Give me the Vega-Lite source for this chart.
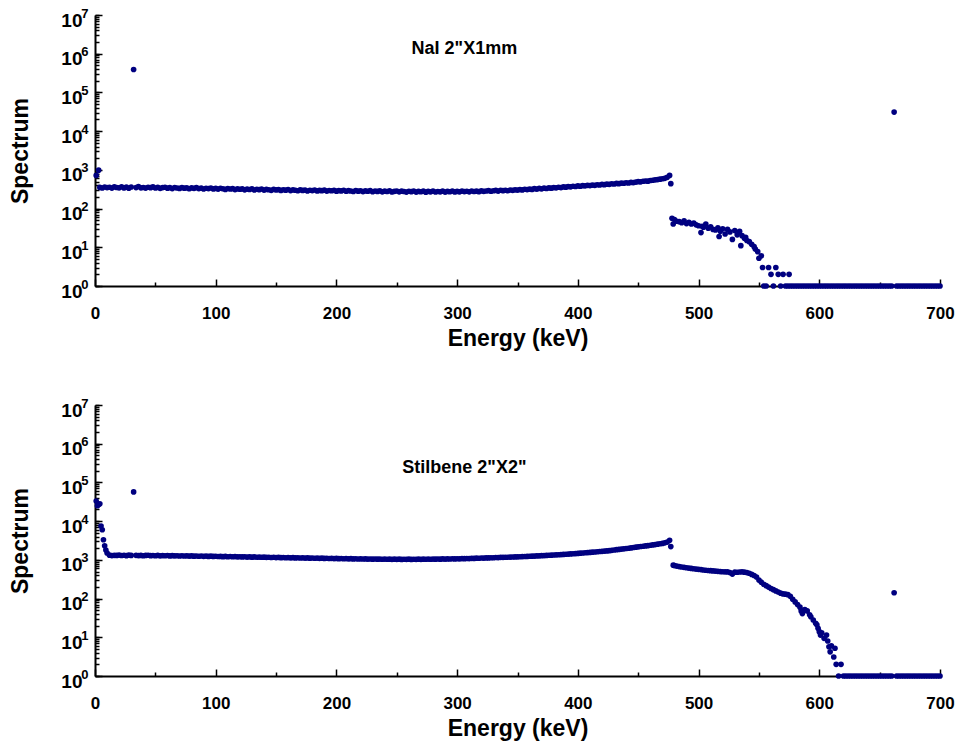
{
  "$schema": "https://vega.github.io/schema/vega-lite/v6.json",
  "background": "white",
  "padding": {"left": 9, "top": 7, "right": 10, "bottom": 5},
  "spacing": 119,
  "bounds": "flush",
  "config": {
    "view": {"stroke": null},
    "font": "Liberation Sans",
    "axis": {
      "grid": false,
      "labelFont": "Liberation Sans",
      "labelFontWeight": "bold",
      "labelFontSize": 17,
      "labelColor": "black",
      "labelOverlap": false,
      "labelFlush": false,
      "titleFont": "Liberation Sans",
      "titleFontWeight": "bold",
      "titleFontSize": 23,
      "titleColor": "black",
      "domainColor": "black",
      "domainWidth": 2,
      "tickColor": "black",
      "tickWidth": 1.5
    }
  },
  "datasets": {
    "nai": [
      {"energy": 1, "counts": 720}, {"energy": 3, "counts": 980},
      {"energy": 4, "counts": 352}, {"energy": 6, "counts": 340}, {"energy": 8, "counts": 361}, {"energy": 10, "counts": 348},
      {"energy": 12, "counts": 355}, {"energy": 14, "counts": 338}, {"energy": 16, "counts": 362}, {"energy": 18, "counts": 350},
      {"energy": 20, "counts": 344}, {"energy": 22, "counts": 366}, {"energy": 24, "counts": 341}, {"energy": 26, "counts": 357},
      {"energy": 28, "counts": 335}, {"energy": 30, "counts": 360}, {"energy": 32, "counts": 390000}, {"energy": 34, "counts": 349},
      {"energy": 36, "counts": 372}, {"energy": 38, "counts": 343}, {"energy": 40, "counts": 351}, {"energy": 42, "counts": 338},
      {"energy": 44, "counts": 356}, {"energy": 46, "counts": 347}, {"energy": 48, "counts": 362}, {"energy": 50, "counts": 340},
      {"energy": 52, "counts": 352}, {"energy": 54, "counts": 333}, {"energy": 56, "counts": 348}, {"energy": 58, "counts": 355},
      {"energy": 60, "counts": 337}, {"energy": 62, "counts": 346}, {"energy": 64, "counts": 328}, {"energy": 66, "counts": 351},
      {"energy": 68, "counts": 340}, {"energy": 70, "counts": 332}, {"energy": 72, "counts": 349}, {"energy": 74, "counts": 336},
      {"energy": 76, "counts": 344}, {"energy": 78, "counts": 325}, {"energy": 80, "counts": 341}, {"energy": 82, "counts": 333},
      {"energy": 84, "counts": 347}, {"energy": 86, "counts": 329}, {"energy": 88, "counts": 338}, {"energy": 90, "counts": 321},
      {"energy": 92, "counts": 335}, {"energy": 94, "counts": 328}, {"energy": 96, "counts": 340}, {"energy": 98, "counts": 322},
      {"energy": 100, "counts": 331}, {"energy": 102, "counts": 318}, {"energy": 104, "counts": 334}, {"energy": 106, "counts": 325},
      {"energy": 108, "counts": 312}, {"energy": 110, "counts": 330}, {"energy": 112, "counts": 320}, {"energy": 114, "counts": 327},
      {"energy": 116, "counts": 310}, {"energy": 118, "counts": 324}, {"energy": 120, "counts": 316}, {"energy": 122, "counts": 322},
      {"energy": 124, "counts": 305}, {"energy": 126, "counts": 318}, {"energy": 128, "counts": 311}, {"energy": 130, "counts": 325},
      {"energy": 132, "counts": 302}, {"energy": 134, "counts": 316}, {"energy": 136, "counts": 308}, {"energy": 138, "counts": 320},
      {"energy": 140, "counts": 300}, {"energy": 142, "counts": 312}, {"energy": 144, "counts": 306}, {"energy": 146, "counts": 296},
      {"energy": 148, "counts": 314}, {"energy": 150, "counts": 303}, {"energy": 152, "counts": 309}, {"energy": 154, "counts": 294},
      {"energy": 156, "counts": 306}, {"energy": 158, "counts": 299}, {"energy": 160, "counts": 311}, {"energy": 162, "counts": 292},
      {"energy": 164, "counts": 303}, {"energy": 166, "counts": 297}, {"energy": 168, "counts": 288}, {"energy": 170, "counts": 305},
      {"energy": 172, "counts": 295}, {"energy": 174, "counts": 300}, {"energy": 176, "counts": 285}, {"energy": 178, "counts": 298},
      {"energy": 180, "counts": 291}, {"energy": 182, "counts": 302}, {"energy": 184, "counts": 286}, {"energy": 186, "counts": 295},
      {"energy": 188, "counts": 290}, {"energy": 190, "counts": 299}, {"energy": 192, "counts": 283}, {"energy": 194, "counts": 293},
      {"energy": 196, "counts": 288}, {"energy": 198, "counts": 296}, {"energy": 200, "counts": 281}, {"energy": 202, "counts": 292},
      {"energy": 204, "counts": 286}, {"energy": 206, "counts": 297}, {"energy": 208, "counts": 280}, {"energy": 210, "counts": 290},
      {"energy": 212, "counts": 284}, {"energy": 214, "counts": 276}, {"energy": 216, "counts": 293}, {"energy": 218, "counts": 282},
      {"energy": 220, "counts": 288}, {"energy": 222, "counts": 274}, {"energy": 224, "counts": 286}, {"energy": 226, "counts": 280},
      {"energy": 228, "counts": 291}, {"energy": 230, "counts": 272}, {"energy": 232, "counts": 284}, {"energy": 234, "counts": 278},
      {"energy": 236, "counts": 287}, {"energy": 238, "counts": 270}, {"energy": 240, "counts": 281}, {"energy": 242, "counts": 276},
      {"energy": 244, "counts": 289}, {"energy": 246, "counts": 268}, {"energy": 248, "counts": 279}, {"energy": 250, "counts": 285},
      {"energy": 252, "counts": 271}, {"energy": 254, "counts": 282}, {"energy": 256, "counts": 276}, {"energy": 258, "counts": 266},
      {"energy": 260, "counts": 280}, {"energy": 262, "counts": 273}, {"energy": 264, "counts": 284}, {"energy": 266, "counts": 267},
      {"energy": 268, "counts": 278}, {"energy": 270, "counts": 272}, {"energy": 272, "counts": 281}, {"energy": 274, "counts": 265},
      {"energy": 276, "counts": 277}, {"energy": 278, "counts": 271}, {"energy": 280, "counts": 283}, {"energy": 282, "counts": 268},
      {"energy": 284, "counts": 276}, {"energy": 286, "counts": 270}, {"energy": 288, "counts": 282}, {"energy": 290, "counts": 266},
      {"energy": 292, "counts": 278}, {"energy": 294, "counts": 272}, {"energy": 296, "counts": 284}, {"energy": 298, "counts": 269},
      {"energy": 300, "counts": 277}, {"energy": 302, "counts": 271}, {"energy": 304, "counts": 283}, {"energy": 306, "counts": 274},
      {"energy": 308, "counts": 280}, {"energy": 310, "counts": 270}, {"energy": 312, "counts": 285}, {"energy": 314, "counts": 276},
      {"energy": 316, "counts": 281}, {"energy": 318, "counts": 273}, {"energy": 320, "counts": 287}, {"energy": 322, "counts": 279},
      {"energy": 324, "counts": 284}, {"energy": 326, "counts": 291}, {"energy": 328, "counts": 280}, {"energy": 330, "counts": 288},
      {"energy": 332, "counts": 294}, {"energy": 334, "counts": 283}, {"energy": 336, "counts": 297}, {"energy": 338, "counts": 290},
      {"energy": 340, "counts": 298}, {"energy": 342, "counts": 288}, {"energy": 344, "counts": 302}, {"energy": 346, "counts": 296},
      {"energy": 348, "counts": 305}, {"energy": 350, "counts": 300}, {"energy": 352, "counts": 310}, {"energy": 354, "counts": 303},
      {"energy": 356, "counts": 315}, {"energy": 358, "counts": 309}, {"energy": 360, "counts": 318}, {"energy": 362, "counts": 312},
      {"energy": 364, "counts": 326}, {"energy": 366, "counts": 318}, {"energy": 368, "counts": 331}, {"energy": 370, "counts": 324},
      {"energy": 372, "counts": 337}, {"energy": 374, "counts": 330}, {"energy": 376, "counts": 342}, {"energy": 378, "counts": 336},
      {"energy": 380, "counts": 348}, {"energy": 382, "counts": 343}, {"energy": 384, "counts": 356}, {"energy": 386, "counts": 349},
      {"energy": 388, "counts": 362}, {"energy": 390, "counts": 357}, {"energy": 392, "counts": 370}, {"energy": 394, "counts": 364},
      {"energy": 396, "counts": 377}, {"energy": 398, "counts": 372}, {"energy": 400, "counts": 384}, {"energy": 402, "counts": 378},
      {"energy": 404, "counts": 391}, {"energy": 406, "counts": 386}, {"energy": 408, "counts": 398}, {"energy": 410, "counts": 393},
      {"energy": 412, "counts": 405}, {"energy": 414, "counts": 399}, {"energy": 416, "counts": 412}, {"energy": 418, "counts": 406},
      {"energy": 420, "counts": 420}, {"energy": 422, "counts": 414}, {"energy": 424, "counts": 428}, {"energy": 426, "counts": 423},
      {"energy": 428, "counts": 437}, {"energy": 430, "counts": 432}, {"energy": 432, "counts": 446}, {"energy": 434, "counts": 440},
      {"energy": 436, "counts": 455}, {"energy": 438, "counts": 450}, {"energy": 440, "counts": 464}, {"energy": 442, "counts": 458},
      {"energy": 444, "counts": 474}, {"energy": 446, "counts": 468}, {"energy": 448, "counts": 484}, {"energy": 450, "counts": 495},
      {"energy": 452, "counts": 490}, {"energy": 454, "counts": 507}, {"energy": 456, "counts": 516}, {"energy": 458, "counts": 510},
      {"energy": 460, "counts": 530}, {"energy": 462, "counts": 538}, {"energy": 464, "counts": 552}, {"energy": 466, "counts": 560},
      {"energy": 468, "counts": 575}, {"energy": 470, "counts": 590}, {"energy": 472, "counts": 605}, {"energy": 474, "counts": 640},
      {"energy": 476, "counts": 720}, {"energy": 477, "counts": 440},
      {"energy": 478, "counts": 56}, {"energy": 479, "counts": 40}, {"energy": 480, "counts": 52}, {"energy": 482, "counts": 47},
      {"energy": 484, "counts": 46}, {"energy": 486, "counts": 43}, {"energy": 488, "counts": 48}, {"energy": 490, "counts": 41},
      {"energy": 492, "counts": 44}, {"energy": 494, "counts": 40}, {"energy": 496, "counts": 42}, {"energy": 498, "counts": 38},
      {"energy": 500, "counts": 36}, {"energy": 502, "counts": 24}, {"energy": 503, "counts": 35}, {"energy": 504, "counts": 33},
      {"energy": 506, "counts": 40}, {"energy": 508, "counts": 31}, {"energy": 510, "counts": 34}, {"energy": 512, "counts": 29},
      {"energy": 514, "counts": 28}, {"energy": 516, "counts": 32}, {"energy": 517, "counts": 19}, {"energy": 518, "counts": 26},
      {"energy": 520, "counts": 30}, {"energy": 522, "counts": 22}, {"energy": 524, "counts": 29}, {"energy": 526, "counts": 25},
      {"energy": 528, "counts": 16}, {"energy": 530, "counts": 27}, {"energy": 532, "counts": 21}, {"energy": 534, "counts": 26},
      {"energy": 535, "counts": 11}, {"energy": 536, "counts": 20}, {"energy": 538, "counts": 17}, {"energy": 539, "counts": 18},
      {"energy": 540, "counts": 15}, {"energy": 542, "counts": 14}, {"energy": 544, "counts": 12}, {"energy": 546, "counts": 10.4},
      {"energy": 547, "counts": 9}, {"energy": 549, "counts": 7.7}, {"energy": 550, "counts": 5.2}, {"energy": 552, "counts": 6},
      {"energy": 553, "counts": 3}, {"energy": 558, "counts": 3}, {"energy": 564, "counts": 3},
      {"energy": 560, "counts": 2}, {"energy": 566, "counts": 2}, {"energy": 570, "counts": 2}, {"energy": 575, "counts": 2},
      {"energy": 554, "counts": 1}, {"energy": 556, "counts": 1}, {"energy": 562, "counts": 1}, {"energy": 568, "counts": 1},
      {"energy": 572, "counts": 1}, {"energy": 574, "counts": 1}, {"energy": 576, "counts": 1}, {"energy": 578, "counts": 1},
      {"energy": 580, "counts": 1}, {"energy": 582, "counts": 1}, {"energy": 584, "counts": 1}, {"energy": 586, "counts": 1},
      {"energy": 588, "counts": 1}, {"energy": 590, "counts": 1}, {"energy": 592, "counts": 1}, {"energy": 594, "counts": 1},
      {"energy": 596, "counts": 1}, {"energy": 598, "counts": 1}, {"energy": 600, "counts": 1}, {"energy": 602, "counts": 1},
      {"energy": 604, "counts": 1}, {"energy": 606, "counts": 1}, {"energy": 608, "counts": 1}, {"energy": 610, "counts": 1},
      {"energy": 612, "counts": 1}, {"energy": 614, "counts": 1}, {"energy": 616, "counts": 1}, {"energy": 618, "counts": 1},
      {"energy": 620, "counts": 1}, {"energy": 622, "counts": 1}, {"energy": 624, "counts": 1}, {"energy": 626, "counts": 1},
      {"energy": 628, "counts": 1}, {"energy": 630, "counts": 1}, {"energy": 632, "counts": 1}, {"energy": 634, "counts": 1},
      {"energy": 636, "counts": 1}, {"energy": 638, "counts": 1}, {"energy": 640, "counts": 1}, {"energy": 642, "counts": 1},
      {"energy": 644, "counts": 1}, {"energy": 646, "counts": 1}, {"energy": 648, "counts": 1}, {"energy": 650, "counts": 1},
      {"energy": 652, "counts": 1}, {"energy": 654, "counts": 1}, {"energy": 656, "counts": 1}, {"energy": 658, "counts": 1},
      {"energy": 660, "counts": 1}, {"energy": 662, "counts": 31000}, {"energy": 664, "counts": 1}, {"energy": 666, "counts": 1},
      {"energy": 668, "counts": 1}, {"energy": 670, "counts": 1}, {"energy": 672, "counts": 1}, {"energy": 674, "counts": 1},
      {"energy": 676, "counts": 1}, {"energy": 678, "counts": 1}, {"energy": 680, "counts": 1}, {"energy": 682, "counts": 1},
      {"energy": 684, "counts": 1}, {"energy": 686, "counts": 1}, {"energy": 688, "counts": 1}, {"energy": 690, "counts": 1},
      {"energy": 692, "counts": 1}, {"energy": 694, "counts": 1}, {"energy": 696, "counts": 1}, {"energy": 698, "counts": 1},
      {"energy": 700, "counts": 1}
    ],
    "stilbene": [
      {"energy": 1, "counts": 33000}, {"energy": 2, "counts": 25000}, {"energy": 3, "counts": 27000}, {"energy": 4, "counts": 28000},
      {"energy": 5, "counts": 7500}, {"energy": 6, "counts": 6000}, {"energy": 7, "counts": 3300}, {"energy": 8, "counts": 2300},
      {"energy": 9, "counts": 1800}, {"energy": 10, "counts": 1500},
      {"energy": 12, "counts": 1320}, {"energy": 14, "counts": 1290}, {"energy": 16, "counts": 1310}, {"energy": 18, "counts": 1300},
      {"energy": 20, "counts": 1330}, {"energy": 22, "counts": 1295}, {"energy": 24, "counts": 1315}, {"energy": 26, "counts": 1285},
      {"energy": 28, "counts": 1320}, {"energy": 30, "counts": 1300}, {"energy": 32, "counts": 57000}, {"energy": 34, "counts": 1310},
      {"energy": 36, "counts": 1290}, {"energy": 38, "counts": 1305}, {"energy": 40, "counts": 1280}, {"energy": 42, "counts": 1300},
      {"energy": 44, "counts": 1315}, {"energy": 46, "counts": 1285}, {"energy": 48, "counts": 1295}, {"energy": 50, "counts": 1280},
      {"energy": 52, "counts": 1300}, {"energy": 54, "counts": 1270}, {"energy": 56, "counts": 1290}, {"energy": 58, "counts": 1275},
      {"energy": 60, "counts": 1295}, {"energy": 62, "counts": 1265}, {"energy": 64, "counts": 1285}, {"energy": 66, "counts": 1270},
      {"energy": 68, "counts": 1280}, {"energy": 70, "counts": 1260}, {"energy": 72, "counts": 1275}, {"energy": 74, "counts": 1255},
      {"energy": 76, "counts": 1270}, {"energy": 78, "counts": 1250}, {"energy": 80, "counts": 1265}, {"energy": 82, "counts": 1245},
      {"energy": 84, "counts": 1260}, {"energy": 86, "counts": 1240}, {"energy": 88, "counts": 1255}, {"energy": 90, "counts": 1235},
      {"energy": 92, "counts": 1250}, {"energy": 94, "counts": 1230}, {"energy": 96, "counts": 1245}, {"energy": 98, "counts": 1225},
      {"energy": 100, "counts": 1240}, {"energy": 102, "counts": 1220}, {"energy": 104, "counts": 1230}, {"energy": 106, "counts": 1210},
      {"energy": 108, "counts": 1225}, {"energy": 110, "counts": 1205}, {"energy": 112, "counts": 1220}, {"energy": 114, "counts": 1200},
      {"energy": 116, "counts": 1215}, {"energy": 118, "counts": 1195}, {"energy": 120, "counts": 1205}, {"energy": 122, "counts": 1190},
      {"energy": 124, "counts": 1200}, {"energy": 126, "counts": 1180}, {"energy": 128, "counts": 1195}, {"energy": 130, "counts": 1175},
      {"energy": 132, "counts": 1190}, {"energy": 134, "counts": 1170}, {"energy": 136, "counts": 1180}, {"energy": 138, "counts": 1165},
      {"energy": 140, "counts": 1175}, {"energy": 142, "counts": 1160}, {"energy": 144, "counts": 1170}, {"energy": 146, "counts": 1150},
      {"energy": 148, "counts": 1165}, {"energy": 150, "counts": 1145}, {"energy": 152, "counts": 1160}, {"energy": 154, "counts": 1140},
      {"energy": 156, "counts": 1150}, {"energy": 158, "counts": 1135}, {"energy": 160, "counts": 1145}, {"energy": 162, "counts": 1130},
      {"energy": 164, "counts": 1140}, {"energy": 166, "counts": 1120}, {"energy": 168, "counts": 1135}, {"energy": 170, "counts": 1115},
      {"energy": 172, "counts": 1130}, {"energy": 174, "counts": 1110}, {"energy": 176, "counts": 1120}, {"energy": 178, "counts": 1105},
      {"energy": 180, "counts": 1115}, {"energy": 182, "counts": 1100}, {"energy": 184, "counts": 1110}, {"energy": 186, "counts": 1095},
      {"energy": 188, "counts": 1105}, {"energy": 190, "counts": 1090}, {"energy": 192, "counts": 1100}, {"energy": 194, "counts": 1085},
      {"energy": 196, "counts": 1095}, {"energy": 198, "counts": 1080}, {"energy": 200, "counts": 1090}, {"energy": 202, "counts": 1075},
      {"energy": 204, "counts": 1085}, {"energy": 206, "counts": 1070}, {"energy": 208, "counts": 1080}, {"energy": 210, "counts": 1065},
      {"energy": 212, "counts": 1075}, {"energy": 214, "counts": 1060}, {"energy": 216, "counts": 1070}, {"energy": 218, "counts": 1055},
      {"energy": 220, "counts": 1065}, {"energy": 222, "counts": 1050}, {"energy": 224, "counts": 1060}, {"energy": 226, "counts": 1045},
      {"energy": 228, "counts": 1055}, {"energy": 230, "counts": 1042}, {"energy": 232, "counts": 1052}, {"energy": 234, "counts": 1040},
      {"energy": 236, "counts": 1048}, {"energy": 238, "counts": 1036}, {"energy": 240, "counts": 1046}, {"energy": 242, "counts": 1034},
      {"energy": 244, "counts": 1044}, {"energy": 246, "counts": 1032}, {"energy": 248, "counts": 1042}, {"energy": 250, "counts": 1030},
      {"energy": 252, "counts": 1040}, {"energy": 254, "counts": 1028}, {"energy": 256, "counts": 1038}, {"energy": 258, "counts": 1030},
      {"energy": 260, "counts": 1040}, {"energy": 262, "counts": 1028}, {"energy": 264, "counts": 1038}, {"energy": 266, "counts": 1030},
      {"energy": 268, "counts": 1042}, {"energy": 270, "counts": 1032}, {"energy": 272, "counts": 1044}, {"energy": 274, "counts": 1034},
      {"energy": 276, "counts": 1046}, {"energy": 278, "counts": 1036}, {"energy": 280, "counts": 1048}, {"energy": 282, "counts": 1040},
      {"energy": 284, "counts": 1052}, {"energy": 286, "counts": 1044}, {"energy": 288, "counts": 1056}, {"energy": 290, "counts": 1048},
      {"energy": 292, "counts": 1060}, {"energy": 294, "counts": 1052}, {"energy": 296, "counts": 1066}, {"energy": 298, "counts": 1058},
      {"energy": 300, "counts": 1070}, {"energy": 302, "counts": 1064}, {"energy": 304, "counts": 1078}, {"energy": 306, "counts": 1072},
      {"energy": 308, "counts": 1086}, {"energy": 310, "counts": 1080}, {"energy": 312, "counts": 1094}, {"energy": 314, "counts": 1090},
      {"energy": 316, "counts": 1104}, {"energy": 318, "counts": 1100}, {"energy": 320, "counts": 1114}, {"energy": 322, "counts": 1110},
      {"energy": 324, "counts": 1124}, {"energy": 326, "counts": 1122}, {"energy": 328, "counts": 1136}, {"energy": 330, "counts": 1134},
      {"energy": 332, "counts": 1148}, {"energy": 334, "counts": 1146}, {"energy": 336, "counts": 1160}, {"energy": 338, "counts": 1160},
      {"energy": 340, "counts": 1165}, {"energy": 342, "counts": 1170}, {"energy": 344, "counts": 1180}, {"energy": 346, "counts": 1186},
      {"energy": 348, "counts": 1190}, {"energy": 350, "counts": 1196}, {"energy": 352, "counts": 1205}, {"energy": 354, "counts": 1212},
      {"energy": 356, "counts": 1220}, {"energy": 358, "counts": 1228}, {"energy": 360, "counts": 1236}, {"energy": 362, "counts": 1245},
      {"energy": 364, "counts": 1254}, {"energy": 366, "counts": 1262}, {"energy": 368, "counts": 1272}, {"energy": 370, "counts": 1282},
      {"energy": 372, "counts": 1292}, {"energy": 374, "counts": 1300}, {"energy": 376, "counts": 1312}, {"energy": 378, "counts": 1322},
      {"energy": 380, "counts": 1332}, {"energy": 382, "counts": 1345}, {"energy": 384, "counts": 1356}, {"energy": 386, "counts": 1370},
      {"energy": 388, "counts": 1382}, {"energy": 390, "counts": 1396}, {"energy": 392, "counts": 1410}, {"energy": 394, "counts": 1424},
      {"energy": 396, "counts": 1440}, {"energy": 398, "counts": 1455}, {"energy": 400, "counts": 1470}, {"energy": 402, "counts": 1488},
      {"energy": 404, "counts": 1505}, {"energy": 406, "counts": 1522}, {"energy": 408, "counts": 1540}, {"energy": 410, "counts": 1560},
      {"energy": 412, "counts": 1578}, {"energy": 414, "counts": 1598}, {"energy": 416, "counts": 1618}, {"energy": 418, "counts": 1640},
      {"energy": 420, "counts": 1660}, {"energy": 422, "counts": 1684}, {"energy": 424, "counts": 1706}, {"energy": 426, "counts": 1730},
      {"energy": 428, "counts": 1765}, {"energy": 430, "counts": 1800}, {"energy": 432, "counts": 1830}, {"energy": 434, "counts": 1860},
      {"energy": 436, "counts": 1895}, {"energy": 438, "counts": 1925}, {"energy": 440, "counts": 1960}, {"energy": 442, "counts": 1995},
      {"energy": 444, "counts": 2035}, {"energy": 446, "counts": 2080}, {"energy": 448, "counts": 2125}, {"energy": 450, "counts": 2170},
      {"energy": 452, "counts": 2210}, {"energy": 454, "counts": 2250}, {"energy": 456, "counts": 2290}, {"energy": 458, "counts": 2330},
      {"energy": 460, "counts": 2380}, {"energy": 462, "counts": 2430}, {"energy": 464, "counts": 2480}, {"energy": 466, "counts": 2540},
      {"energy": 468, "counts": 2600}, {"energy": 470, "counts": 2660}, {"energy": 472, "counts": 2750}, {"energy": 474, "counts": 2880},
      {"energy": 476, "counts": 3200}, {"energy": 477, "counts": 2200},
      {"energy": 479, "counts": 730}, {"energy": 480, "counts": 710}, {"energy": 482, "counts": 690}, {"energy": 484, "counts": 670},
      {"energy": 486, "counts": 655}, {"energy": 488, "counts": 640}, {"energy": 490, "counts": 625}, {"energy": 492, "counts": 612},
      {"energy": 494, "counts": 600}, {"energy": 496, "counts": 590}, {"energy": 498, "counts": 578}, {"energy": 500, "counts": 568},
      {"energy": 502, "counts": 560}, {"energy": 504, "counts": 548}, {"energy": 506, "counts": 540}, {"energy": 508, "counts": 532},
      {"energy": 510, "counts": 525}, {"energy": 512, "counts": 518}, {"energy": 514, "counts": 512}, {"energy": 516, "counts": 505},
      {"energy": 518, "counts": 498}, {"energy": 520, "counts": 494}, {"energy": 522, "counts": 490}, {"energy": 524, "counts": 488},
      {"energy": 526, "counts": 470}, {"energy": 528, "counts": 430}, {"energy": 530, "counts": 480}, {"energy": 532, "counts": 478},
      {"energy": 534, "counts": 485}, {"energy": 536, "counts": 490}, {"energy": 538, "counts": 480}, {"energy": 540, "counts": 470},
      {"energy": 542, "counts": 450}, {"energy": 544, "counts": 420}, {"energy": 546, "counts": 395}, {"energy": 548, "counts": 360},
      {"energy": 550, "counts": 300}, {"energy": 552, "counts": 265}, {"energy": 554, "counts": 235}, {"energy": 556, "counts": 215},
      {"energy": 558, "counts": 198}, {"energy": 560, "counts": 182}, {"energy": 562, "counts": 170}, {"energy": 564, "counts": 158},
      {"energy": 566, "counts": 148}, {"energy": 568, "counts": 138}, {"energy": 570, "counts": 132}, {"energy": 572, "counts": 130},
      {"energy": 574, "counts": 126}, {"energy": 576, "counts": 115}, {"energy": 578, "counts": 96}, {"energy": 580, "counts": 82},
      {"energy": 582, "counts": 70}, {"energy": 584, "counts": 60}, {"energy": 585, "counts": 48}, {"energy": 586, "counts": 41},
      {"energy": 588, "counts": 52}, {"energy": 590, "counts": 48}, {"energy": 592, "counts": 38}, {"energy": 593, "counts": 34},
      {"energy": 595, "counts": 28}, {"energy": 597, "counts": 23}, {"energy": 598, "counts": 21}, {"energy": 599, "counts": 17},
      {"energy": 600, "counts": 14}, {"energy": 601, "counts": 11.4}, {"energy": 602, "counts": 13}, {"energy": 604, "counts": 9.4},
      {"energy": 606, "counts": 11.4}, {"energy": 607, "counts": 8}, {"energy": 608, "counts": 5.7}, {"energy": 609, "counts": 4.2},
      {"energy": 610, "counts": 6}, {"energy": 612, "counts": 3.1}, {"energy": 613, "counts": 5.2}, {"energy": 614, "counts": 2},
      {"energy": 618, "counts": 2},
      {"energy": 616, "counts": 1}, {"energy": 620, "counts": 1}, {"energy": 622, "counts": 1}, {"energy": 624, "counts": 1},
      {"energy": 626, "counts": 1}, {"energy": 628, "counts": 1}, {"energy": 630, "counts": 1}, {"energy": 632, "counts": 1},
      {"energy": 634, "counts": 1}, {"energy": 636, "counts": 1}, {"energy": 638, "counts": 1}, {"energy": 640, "counts": 1},
      {"energy": 642, "counts": 1}, {"energy": 644, "counts": 1}, {"energy": 646, "counts": 1}, {"energy": 648, "counts": 1},
      {"energy": 650, "counts": 1}, {"energy": 652, "counts": 1}, {"energy": 654, "counts": 1}, {"energy": 656, "counts": 1},
      {"energy": 658, "counts": 1}, {"energy": 660, "counts": 1}, {"energy": 662, "counts": 141}, {"energy": 664, "counts": 1},
      {"energy": 666, "counts": 1}, {"energy": 668, "counts": 1}, {"energy": 670, "counts": 1}, {"energy": 672, "counts": 1},
      {"energy": 674, "counts": 1}, {"energy": 676, "counts": 1}, {"energy": 678, "counts": 1}, {"energy": 680, "counts": 1},
      {"energy": 682, "counts": 1}, {"energy": 684, "counts": 1}, {"energy": 686, "counts": 1}, {"energy": 688, "counts": 1},
      {"energy": 690, "counts": 1}, {"energy": 692, "counts": 1}, {"energy": 694, "counts": 1}, {"energy": 696, "counts": 1},
      {"energy": 698, "counts": 1}, {"energy": 700, "counts": 1}
    ]
  },
  "vconcat": [
    {
      "width": 845,
      "height": 271,
      "layer": [
        {
          "data": {"name": "nai"},
          "mark": {"type": "circle", "size": 32, "color": "#000080", "opacity": 1},
          "encoding": {
            "x": {
              "field": "energy", "type": "quantitative",
              "scale": {"domain": [0, 700], "nice": false, "zero": false},
              "axis": {"orient": "bottom", "values": [0, 100, 200, 300, 400, 500, 600, 700], "tickSize": -7, "labelPadding": 26, "title": "Energy (keV)", "titlePadding": 6}
            },
            "y": {
              "field": "counts", "type": "quantitative",
              "scale": {"type": "log", "domain": [1, 10000000], "nice": false},
              "axis": {"orient": "left", "values": [1, 10, 100, 1000, 10000, 100000, 1000000, 10000000], "tickSize": -7,
                       "labelExpr": "'10'", "labelFontSize": 19, "labelPadding": 20, "labelOffset": 5,
                       "title": "Spectrum", "titlePadding": 28}
            }
          }
        },
        {
          "data": {"values": [{"label": "NaI 2\"X1mm", "energy": 306, "counts": 1300000}]},
          "mark": {"type": "text", "font": "Liberation Sans", "fontWeight": "bold", "fontSize": 18, "color": "black", "align": "center", "baseline": "middle"},
          "encoding": {
            "text": {"field": "label"},
            "x": {
              "field": "energy", "type": "quantitative",
              "scale": {"domain": [0, 700], "nice": false, "zero": false},
              "axis": {"orient": "bottom", "values": [50, 150, 250, 350, 450, 550, 650], "tickSize": -4, "labels": false, "domain": false, "title": null}
            },
            "y": {
              "field": "counts", "type": "quantitative",
              "scale": {"type": "log", "domain": [1, 10000000], "nice": false},
              "axis": {"orient": "left", "tickSize": -4, "domain": false, "title": null,
                       "labelExpr": "abs(log(datum.value) / LN10 - round(log(datum.value) / LN10)) < 0.001 ? format(round(log(datum.value) / LN10), 'd') : ''",
                       "labelFontSize": 13, "labelPadding": 11, "labelOffset": -2, "labelAlign": "right",
                       "values": [1,2,3,4,5,6,7,8,9,10,20,30,40,50,60,70,80,90,100,200,300,400,500,600,700,800,900,1000,2000,3000,4000,5000,6000,7000,8000,9000,10000,20000,30000,40000,50000,60000,70000,80000,90000,100000,200000,300000,400000,500000,600000,700000,800000,900000,1000000,2000000,3000000,4000000,5000000,6000000,7000000,8000000,9000000,10000000]}
            }
          }
        }
      ],
      "resolve": {"axis": {"x": "independent", "y": "independent"}}
    },
    {
      "width": 845,
      "height": 271,
      "layer": [
        {
          "data": {"name": "stilbene"},
          "mark": {"type": "circle", "size": 32, "color": "#000080", "opacity": 1},
          "encoding": {
            "x": {
              "field": "energy", "type": "quantitative",
              "scale": {"domain": [0, 700], "nice": false, "zero": false},
              "axis": {"orient": "bottom", "values": [0, 100, 200, 300, 400, 500, 600, 700], "tickSize": -7, "labelPadding": 26, "title": "Energy (keV)", "titlePadding": 6}
            },
            "y": {
              "field": "counts", "type": "quantitative",
              "scale": {"type": "log", "domain": [1, 10000000], "nice": false},
              "axis": {"orient": "left", "values": [1, 10, 100, 1000, 10000, 100000, 1000000, 10000000], "tickSize": -7,
                       "labelExpr": "'10'", "labelFontSize": 19, "labelPadding": 20, "labelOffset": 5,
                       "title": "Spectrum", "titlePadding": 28}
            }
          }
        },
        {
          "data": {"values": [{"label": "Stilbene 2\"X2\"", "energy": 306, "counts": 230000}]},
          "mark": {"type": "text", "font": "Liberation Sans", "fontWeight": "bold", "fontSize": 18, "color": "black", "align": "center", "baseline": "middle"},
          "encoding": {
            "text": {"field": "label"},
            "x": {
              "field": "energy", "type": "quantitative",
              "scale": {"domain": [0, 700], "nice": false, "zero": false},
              "axis": {"orient": "bottom", "values": [50, 150, 250, 350, 450, 550, 650], "tickSize": -4, "labels": false, "domain": false, "title": null}
            },
            "y": {
              "field": "counts", "type": "quantitative",
              "scale": {"type": "log", "domain": [1, 10000000], "nice": false},
              "axis": {"orient": "left", "tickSize": -4, "domain": false, "title": null,
                       "labelExpr": "abs(log(datum.value) / LN10 - round(log(datum.value) / LN10)) < 0.001 ? format(round(log(datum.value) / LN10), 'd') : ''",
                       "labelFontSize": 13, "labelPadding": 11, "labelOffset": -2, "labelAlign": "right",
                       "values": [1,2,3,4,5,6,7,8,9,10,20,30,40,50,60,70,80,90,100,200,300,400,500,600,700,800,900,1000,2000,3000,4000,5000,6000,7000,8000,9000,10000,20000,30000,40000,50000,60000,70000,80000,90000,100000,200000,300000,400000,500000,600000,700000,800000,900000,1000000,2000000,3000000,4000000,5000000,6000000,7000000,8000000,9000000,10000000]}
            }
          }
        }
      ],
      "resolve": {"axis": {"x": "independent", "y": "independent"}}
    }
  ]
}
